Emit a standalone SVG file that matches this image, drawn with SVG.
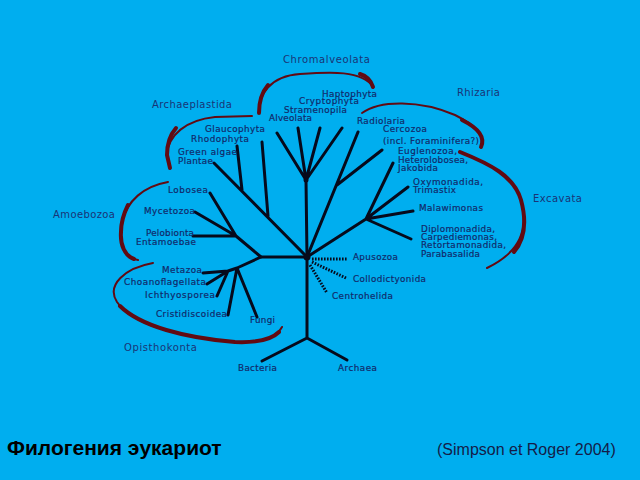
<svg xmlns="http://www.w3.org/2000/svg" width="640" height="480" viewBox="0 0 640 480">
<style>
.bg{fill:#00aeef}
.br{stroke:#060a1c;stroke-width:3;fill:none;stroke-linecap:round}
.dot{stroke:#060a1c;stroke-width:3;fill:none;stroke-dasharray:1.6 1.4}
.arc{stroke:#620a12;fill:none;stroke-linecap:round;stroke-linejoin:round}
.thin{stroke-width:2}
.thick{stroke-width:4}
.lf{font-family:"DejaVu Sans","Verdana",sans-serif;font-size:8.8px;fill:#12296a;stroke:#12296a;stroke-width:0.2}
.gp{font-family:"DejaVu Sans","Verdana",sans-serif;font-size:10px;fill:#1a3476}
.title{font-family:"Liberation Sans",Arial,sans-serif;font-size:21px;font-weight:bold;fill:#000}
.cite{font-family:"Liberation Sans",Arial,sans-serif;font-size:16px;fill:#141c48}
</style>
<rect class="bg" x="0" y="0" width="640" height="480"/>

<g id="clade-arcs">
  <path class="arc thin" d="M259 113 C258 95 270 76 300 74 C330 72 362 70 373 87"/>
  <path class="arc thick" d="M259 113 C259 102 262 92 268 85"/>
  <path class="arc thick" d="M360 74 C367 76 371 81 373 87"/>
  <path class="arc thin" d="M252 116 L215 117 C186 120 168 135 167 155 L170 168"/>
  <path class="arc thick" d="M176 128 C169 136 167 146 167 155 L170 168"/>
  <path class="arc thin" d="M362 113 C380 100 420 100 455 115 C475 125 486 136 481 147"/>
  <path class="arc thick" d="M462 120 C476 127 486 136 481 147"/>
  <path class="arc thin" d="M460 152 C490 164 514 176 521 200 C529 230 520 252 487 268"/>
  <path class="arc thick" d="M460 152 C490 164 514 176 521 200 C527 222 524 240 514 252"/>
  <path class="arc thin" d="M168 182 C145 186 126 200 121 225 C119 245 125 258 138 260"/>
  <path class="arc thick" d="M128 205 C123 215 121 222 121 232 C120 245 125 256 134 259"/>
  <path class="arc thin" d="M153 263 C125 268 106 285 117 302 C133 325 180 337 235 342 C262 343 276 338 282 327"/>
  <path class="arc thick" d="M120 306 C140 326 185 338 235 342 C258 343 272 339 279 332"/>
</g>

<g id="connectors">
  <path class="br" d="M307 257 V338 M307 338 L262 361 M307 338 L347 360"/>
  <path class="br" d="M307 257 H261 M261 257 L236 236 M236 236 L210 193 M236 236 L195 212 M236 236 H193"/>
  <path class="br" d="M261 257 L237 268 M237 268 L228 271 M228 271 L203 273 M228 271 L207 284 M228 271 L217 296 M237 268 L228 315 M237 268 L257 317"/>
  <path class="br" d="M307 257 L214 163 M242 190 L237 146 M268 216 L262 142"/>
  <path class="br" d="M307 257 L306 180 M306 180 L277 133 M306 180 L298 128 M306 180 L320 128 M306 180 L342 128"/>
  <path class="br" d="M307 257 L358 132 M337 185 L382 150"/>
  <path class="br" d="M307 257 L366 219 M366 219 L393 163 M366 219 L408 187 M366 219 L413 211 M366 219 L411 239"/>
  <path class="dot" d="M312 259 H347 M312 262 L346 278 M310 265 L327 293"/>
  <circle cx="307" cy="257" r="3.5" fill="#060a1c"/>
  <circle cx="306" cy="180" r="2.5" fill="#060a1c"/>
</g>

<g id="Chromalveolata">
  <text class="gp" x="283" y="63" textLength="87">Chromalveolata</text>
  <text class="lf" x="322" y="97" textLength="55">Haptophyta</text>
  <text class="lf" x="299" y="104" textLength="60">Cryptophyta</text>
  <text class="lf" x="284" y="113" textLength="63">Stramenopila</text>
  <text class="lf" x="269" y="121" textLength="43">Alveolata</text>
</g>
<g id="Archaeplastida">
  <text class="gp" x="152" y="108" textLength="80">Archaeplastida</text>
  <text class="lf" x="205" y="132" textLength="60">Glaucophyta</text>
  <text class="lf" x="191" y="142" textLength="58">Rhodophyta</text>
  <text class="lf" x="178" y="155" textLength="59">Green algae</text>
  <text class="lf" x="178" y="164" textLength="35">Plantae</text>
</g>
<g id="Rhizaria">
  <text class="gp" x="457" y="96" textLength="43">Rhizaria</text>
  <text class="lf" x="357" y="124" textLength="48">Radiolaria</text>
  <text class="lf" x="383" y="132" textLength="44">Cercozoa</text>
  <text class="lf" x="383" y="144" textLength="96">(incl. Foraminifera?)</text>
</g>
<g id="Excavata">
  <text class="gp" x="533" y="202" textLength="49">Excavata</text>
  <text class="lf" x="398" y="154" textLength="59">Euglenozoa,</text>
  <text class="lf" x="398" y="163" textLength="70">Heterolobosea,</text>
  <text class="lf" x="398" y="171" textLength="40">Jakobida</text>
  <text class="lf" x="413" y="185" textLength="70">Oxymonadida,</text>
  <text class="lf" x="413" y="193" textLength="43">Trimastix</text>
  <text class="lf" x="419" y="211" textLength="64">Malawimonas</text>
  <text class="lf" x="421" y="232" textLength="74">Diplomonadida,</text>
  <text class="lf" x="421" y="240" textLength="76">Carpediemonas,</text>
  <text class="lf" x="421" y="248" textLength="85">Retortamonadida,</text>
  <text class="lf" x="421" y="257" textLength="59">Parabasalida</text>
</g>
<g id="Amoebozoa">
  <text class="gp" x="53" y="218" textLength="62">Amoebozoa</text>
  <text class="lf" x="168" y="193" textLength="40">Lobosea</text>
  <text class="lf" x="144" y="214" textLength="51">Mycetozoa</text>
  <text class="lf" x="146" y="236" textLength="48">Pelobionta</text>
  <text class="lf" x="136" y="245" textLength="60">Entamoebae</text>
</g>
<g id="Opisthokonta">
  <text class="gp" x="124" y="351" textLength="73">Opisthokonta</text>
  <text class="lf" x="162" y="273" textLength="40">Metazoa</text>
  <text class="lf" x="124" y="285" textLength="82">Choanoflagellata</text>
  <text class="lf" x="145" y="298" textLength="70">Ichthyosporea</text>
  <text class="lf" x="156" y="317" textLength="71">Cristidiscoidea</text>
  <text class="lf" x="250" y="323" textLength="25">Fungi</text>
</g>
<g id="incertae">
  <text class="lf" x="353" y="260" textLength="45">Apusozoa</text>
  <text class="lf" x="353" y="282" textLength="73">Collodictyonida</text>
  <text class="lf" x="332" y="299" textLength="61">Centrohelida</text>
</g>
<g id="outgroups">
  <text class="lf" x="238" y="371" textLength="39">Bacteria</text>
  <text class="lf" x="338" y="371" textLength="39">Archaea</text>
</g>
<g id="caption">
  <text class="title" x="7" y="455">Филогения эукариот</text>
  <text class="cite" x="437" y="455">(Simpson et Roger 2004)</text>
</g>
</svg>
